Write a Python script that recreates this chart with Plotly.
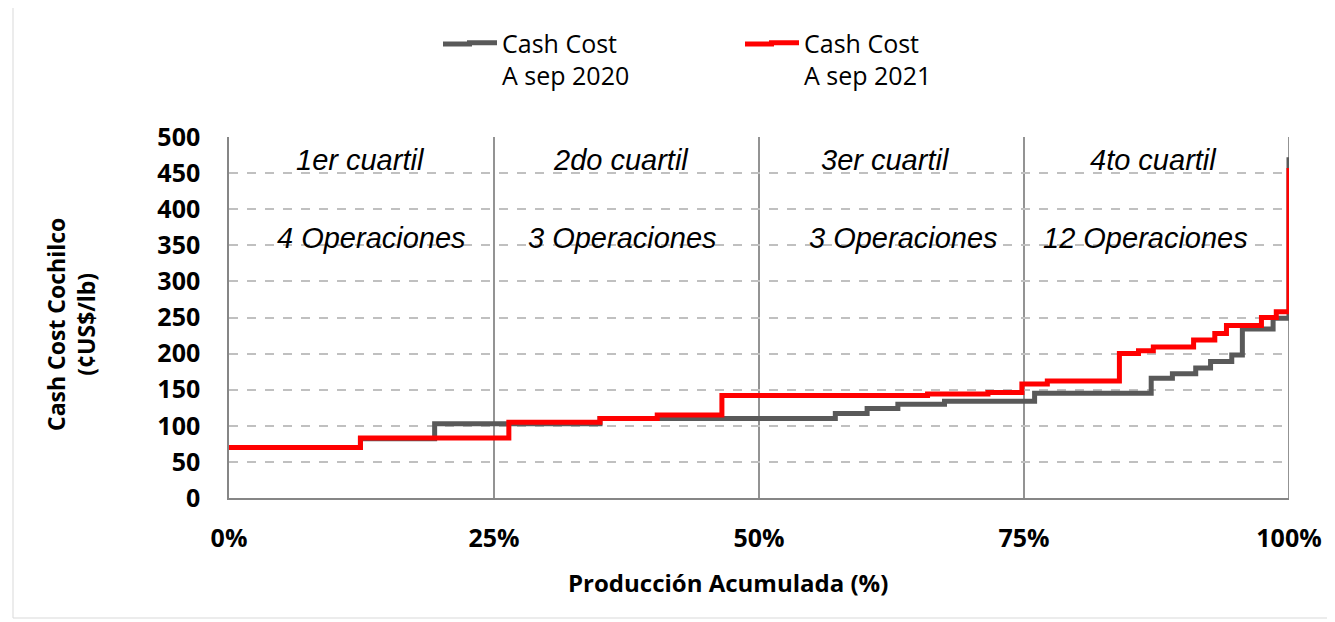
import plotly.graph_objects as go

# ---------------- data ----------------
# cumulative production (%) where each step starts, and cash cost (¢US$/lb)
x_2020 = [0, 12.4, 19.4, 35.0, 57.2, 60.2, 63.1, 67.5, 76.0, 87.0, 89.0, 91.2, 92.6, 94.6, 95.6, 98.5, 100]
y_2020 = [70, 82, 103, 110, 117, 124, 130, 134, 145, 166, 172, 180, 189, 198, 234, 249, 472]

x_2021 = [0, 12.4, 26.4, 35.0, 40.4, 46.5, 65.9, 71.6, 74.8, 77.2, 84.0, 85.8, 87.2, 91.0, 93.0, 94.1, 97.4, 98.8, 100]
y_2021 = [70, 83, 105, 110, 115, 142, 144, 146, 158, 162, 200, 204, 209, 219, 228, 239, 250, 258, 457]

series_names = ["Cash Cost<br>A sep 2020", "Cash Cost<br>A sep 2021"]
series_colors = ["#595959", "#FF0000"]
x_tickvals = [0, 25, 50, 75, 100]
x_ticktext = ["0%", "25%", "50%", "75%", "100%"]
quartile_bounds = [25, 50, 75, 100]
quartile_labels = ["1er cuartil", "2do cuartil", "3er cuartil", "4to cuartil"]
operation_labels = ["4 Operaciones", "3 Operaciones", "3 Operaciones", "12 Operaciones"]

# label placement (layout, not data)
quartile_label_x = [12.45, 37.0, 61.9, 87.2]
operation_label_x = [13.4, 37.1, 63.6, 86.5]
quartile_label_y = 468
operation_label_y = 360

# ---------------- figure ----------------
OFF = 8  # page body margin
W, H = 1335 - OFF, 622 - OFF
L, R, T, B = 229, 1289, 137, 498   # plot area in screenshot pixels
pw, ph = R - L, B - T

def px_x(p):
    return (p - L) / pw

def px_y(p):
    return (B - p) / ph

fig = go.Figure()
fig.add_trace(go.Scatter(x=x_2020, y=y_2020, mode="lines", line_shape="hv",
                         line=dict(color=series_colors[0], width=5), name=series_names[0]))
fig.add_trace(go.Scatter(x=x_2021, y=y_2021, mode="lines", line_shape="hv",
                         line=dict(color=series_colors[1], width=5), name=series_names[1]))

shapes = []
for q in quartile_bounds:
    shapes.append(dict(type="line", xref="x", yref="y", x0=q, x1=q, y0=0, y1=500,
                       line=dict(color="#595959", width=1.3), layer="below"))
# outer chart border
shapes.append(dict(type="rect", xref="paper", yref="paper",
                   x0=px_x(13), x1=px_x(1330), y0=px_y(618), y1=px_y(4),
                   line=dict(color="#d9d9d9", width=1), layer="below"))
# longer legend keys (extend plotly's short legend line to the left)
for x0, x1, c in [(443, 472, series_colors[0]), (745, 774, series_colors[1])]:
    shapes.append(dict(type="line", xref="paper", yref="paper",
                       x0=px_x(x0), x1=px_x(x1), y0=px_y(44), y1=px_y(44),
                       line=dict(color=c, width=5)))

ital = dict(family="Liberation Sans, Arial", size=29, color="black", style="italic")
annotations = []
for lbl, xx in zip(quartile_labels, quartile_label_x):
    annotations.append(dict(x=xx, y=quartile_label_y, xref="x", yref="y", text=lbl,
                            xanchor="center", yanchor="middle", showarrow=False, font=ital))
for lbl, xx in zip(operation_labels, operation_label_x):
    annotations.append(dict(x=xx, y=operation_label_y, xref="x", yref="y", text=lbl,
                            xanchor="center", yanchor="middle", showarrow=False, font=ital))
annotations.append(dict(x=px_x(71), y=px_y(325), xref="paper", yref="paper",
                        xanchor="center", yanchor="middle",
                        text="<b>Cash Cost Cochilco<br>(¢US$/lb)</b>", textangle=-90,
                        showarrow=False, font=dict(family="Open Sans", size=23, color="black")))
annotations.append(dict(x=px_x(728), y=px_y(582), xref="paper", yref="paper",
                        xanchor="center", yanchor="middle",
                        text="<b>Producción Acumulada (%)</b>",
                        showarrow=False, font=dict(family="Open Sans", size=24, color="black")))

fig.update_layout(
    width=W, height=H,
    margin=dict(l=L - OFF, r=W - (R - OFF), t=T - OFF, b=H - (B - OFF), pad=0),
    paper_bgcolor="white", plot_bgcolor="white",
    shapes=shapes, annotations=annotations,
    legend=dict(orientation="h", x=px_x(462), y=px_y(20), xanchor="left", yanchor="top",
                font=dict(family="Open Sans", size=25, color="black"),
                entrywidth=257, entrywidthmode="pixels", valign="top",
                bgcolor="rgba(0,0,0,0)", tracegroupgap=0),
    xaxis=dict(range=[0, 100], tickvals=x_tickvals, ticktext=x_ticktext,
               showgrid=False, zeroline=False, showline=True, linecolor="#868686", linewidth=1.5,
               ticks="", ticklabelstandoff=17,
               tickfont=dict(family="Open Sans", size=25, color="black", weight="bold")),
    yaxis=dict(range=[0, 500], dtick=50, tick0=0,
               showgrid=True, gridcolor="#c0c0c0", gridwidth=1.5, griddash="dash",
               zeroline=False, showline=True, linecolor="#868686", linewidth=1.5,
               ticks="", ticklabelstandoff=22,
               tickfont=dict(family="Open Sans", size=25, color="black", weight="bold")),
    showlegend=True,
)

fig.write_html("out.html")
